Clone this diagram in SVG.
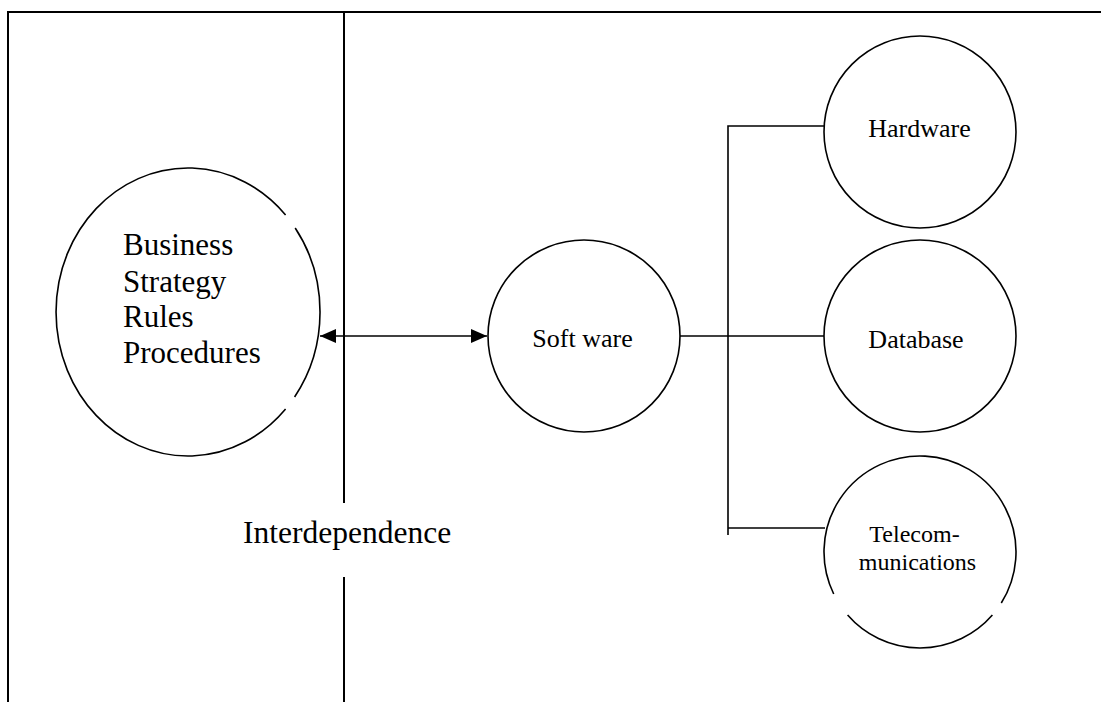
<svg xmlns="http://www.w3.org/2000/svg" width="1101" height="702" viewBox="0 0 1101 702">
<defs>
<style>
.frame{stroke:#000;stroke-width:2;fill:none}
.node{stroke:#000;stroke-width:1.6;fill:none}
.conn{stroke:#000;stroke-width:1.6;fill:none}
.t{font-family:"Liberation Serif","Times New Roman",serif;fill:#000}
</style>
<marker id="ah" markerWidth="16" markerHeight="14" refX="16" refY="7" orient="auto-start-reverse" markerUnits="userSpaceOnUse">
<path d="M0,0 L16,7 L0,14 Z" fill="#000"/>
</marker>
</defs>
<rect width="1101" height="702" fill="#fff"/>
<g id="frame">
<path class="frame" d="M8,702 L8,12 L1101,12"/>
<path class="frame" d="M344,12 L344,503 M344,577 L344,702"/>
<text class="t" x="243" y="543" font-size="31.5">Interdependence</text>
</g>
<g id="business">
<path class="node" d="M295.2,228 A132,144 0 0 1 294.6,397 M285.6,409 A132,144 0 1 1 285.6,215"/>
<text class="t" font-size="31">
<tspan x="123" y="255">Business</tspan>
<tspan x="123" y="291.5">Strategy</tspan>
<tspan x="123" y="327">Rules</tspan>
<tspan x="123" y="363">Procedures</tspan>
</text>
</g>
<g id="software">
<circle class="node" cx="584" cy="336" r="96"/>
<text class="t" x="582.5" y="346.5" font-size="26" text-anchor="middle">Soft ware</text>
</g>
<g id="hardware">
<circle class="node" cx="920" cy="132" r="96"/>
<text class="t" x="919.5" y="137" font-size="26" text-anchor="middle">Hardware</text>
</g>
<g id="database">
<circle class="node" cx="920" cy="336" r="96"/>
<text class="t" x="916" y="348" font-size="26" text-anchor="middle">Database</text>
</g>
<g id="telecom">
<path class="node" d="M847.6,615 A96,96 0 0 0 992.4,615 M1001.3,603 A96,96 0 1 0 833.7,594"/>
<text class="t" font-size="24" text-anchor="middle">
<tspan x="917.5" y="541.5">Telecom-</tspan>
<tspan x="917.5" y="570">munications</tspan>
</text>
</g>
<g id="connectors">
<line class="conn" x1="320" y1="336" x2="487" y2="336" stroke-width="2" marker-start="url(#ah)" marker-end="url(#ah)"/>
<line class="conn" x1="680" y1="336" x2="824" y2="336"/>
<path class="conn" d="M824,126 L728,126 L728,535"/>
<line class="conn" x1="728" y1="528" x2="825" y2="528"/>
</g>
</svg>
